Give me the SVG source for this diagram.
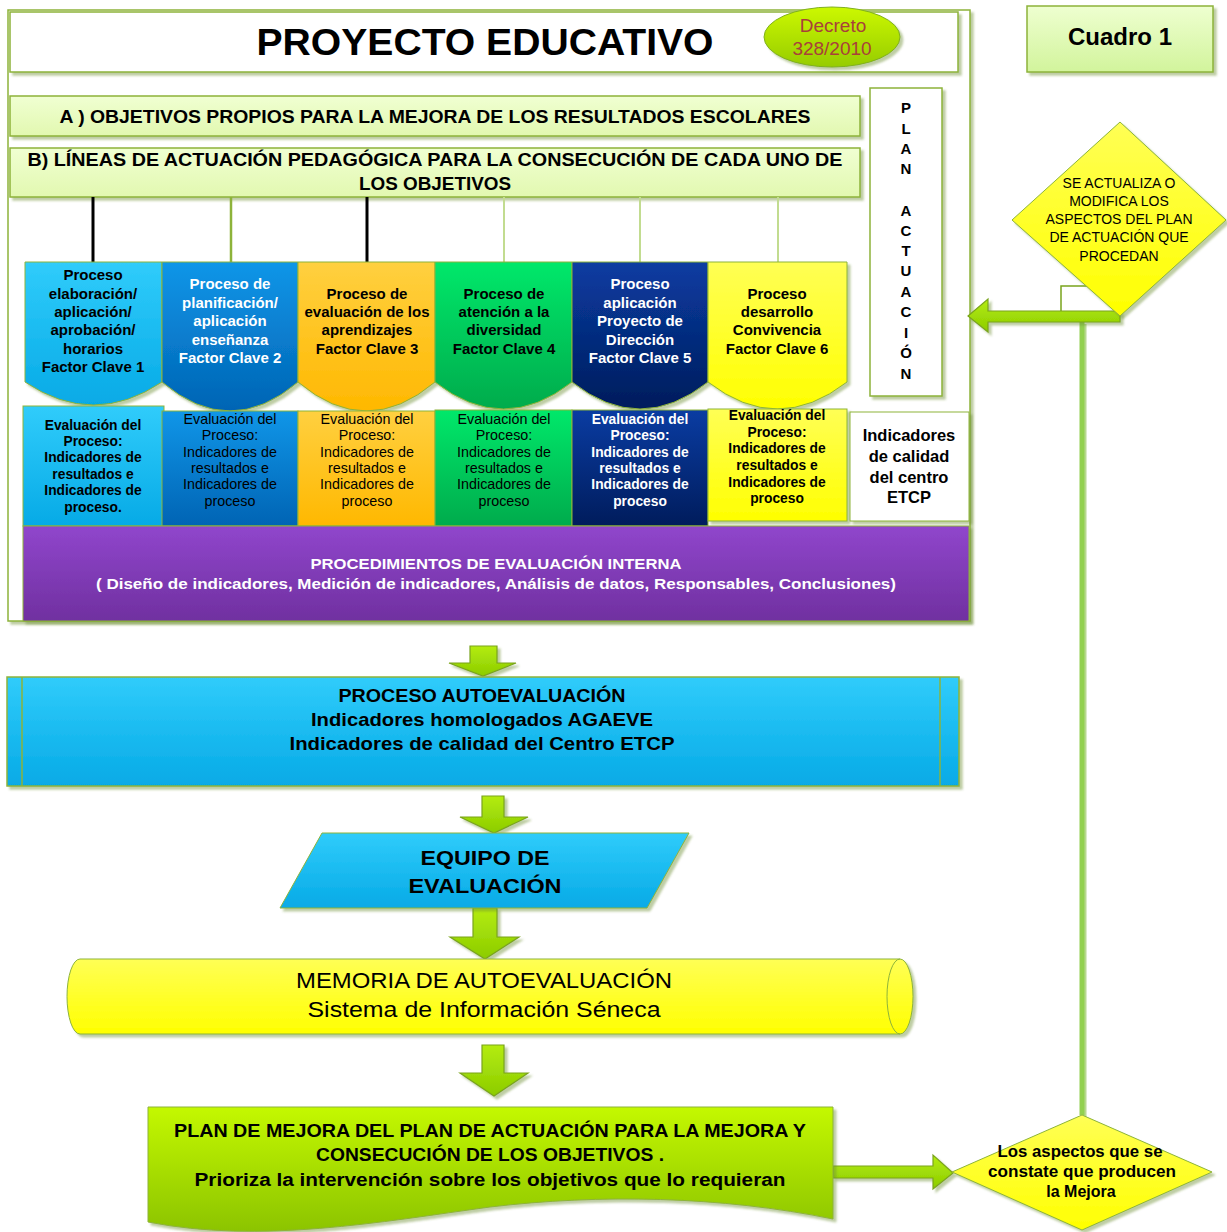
<svg xmlns="http://www.w3.org/2000/svg" width="1227" height="1232" viewBox="0 0 1227 1232">
<defs>
<filter id="sh" x="-5%" y="-5%" width="115%" height="125%"><feDropShadow dx="3" dy="3" stdDeviation="1.2" flood-color="#6f8f30" flood-opacity="0.45"/></filter>
<linearGradient id="gLb" x1="0" y1="0" x2="0" y2="1"><stop offset="0" stop-color="#30ccfb"/><stop offset="1" stop-color="#06aae6"/></linearGradient>
<linearGradient id="gB2" x1="0" y1="0" x2="0" y2="1"><stop offset="0" stop-color="#1096e8"/><stop offset="1" stop-color="#0064b4"/></linearGradient>
<linearGradient id="gOr" x1="0" y1="0" x2="0" y2="1"><stop offset="0" stop-color="#ffd040"/><stop offset="1" stop-color="#ffb800"/></linearGradient>
<linearGradient id="gGr" x1="0" y1="0" x2="0" y2="1"><stop offset="0" stop-color="#00e86a"/><stop offset="1" stop-color="#00ab4c"/></linearGradient>
<linearGradient id="gNv" x1="0" y1="0" x2="0" y2="1"><stop offset="0" stop-color="#0a3ca2"/><stop offset="1" stop-color="#001c5c"/></linearGradient>
<linearGradient id="gYe" x1="0" y1="0" x2="0" y2="1"><stop offset="0" stop-color="#ffff55"/><stop offset="1" stop-color="#ffff00"/></linearGradient>
<linearGradient id="gPu" x1="0" y1="0" x2="0" y2="1"><stop offset="0" stop-color="#9046cc"/><stop offset="1" stop-color="#7030a0"/></linearGradient>
<linearGradient id="gLi" x1="0" y1="0" x2="0" y2="1"><stop offset="0" stop-color="#c4f800"/><stop offset="1" stop-color="#8cc400"/></linearGradient>
<linearGradient id="gLiH" x1="0" y1="0" x2="0" y2="1"><stop offset="0" stop-color="#b4ec10"/><stop offset="1" stop-color="#8ccc00"/></linearGradient>
<linearGradient id="gDe" x1="0" y1="0" x2="0" y2="1"><stop offset="0" stop-color="#ccf800"/><stop offset="1" stop-color="#96cc00"/></linearGradient>
<linearGradient id="gCu" x1="0" y1="0" x2="0" y2="1"><stop offset="0" stop-color="#eeffd0"/><stop offset="1" stop-color="#d2f49c"/></linearGradient>
<linearGradient id="gAB" x1="0" y1="0" x2="0" y2="1"><stop offset="0" stop-color="#f0ffd2"/><stop offset="1" stop-color="#e2f8b0"/></linearGradient>
</defs>
<style>
text{font-family:"Liberation Sans",Arial,sans-serif;text-anchor:middle}
.b{font-weight:bold}
.bd{stroke:#8db33a;stroke-width:1.5}
.thin{stroke:#8db33a;stroke-width:1}
.w{fill:#ffffff}
.k{fill:#000000}
.arr{fill:url(#gLiH);stroke:#7aa41c;stroke-width:1.2}
.p{font-size:15px;font-weight:bold}
.e{font-size:14.3px}
.eb{font-size:13.8px;font-weight:bold}
.pl{font-size:15px;font-weight:bold}
</style>
<rect width="1227" height="1232" fill="#ffffff"/>

<g id="frame"><rect x="8" y="10" width="962" height="611" fill="#ffffff" class="bd" filter="url(#sh)"/></g>

<g id="title"><rect x="10" y="12" width="948" height="60" fill="#ffffff" class="bd" filter="url(#sh)"/>
<text x="485" y="55" class="b" font-size="37" textLength="457" lengthAdjust="spacingAndGlyphs">PROYECTO EDUCATIVO</text></g>

<g id="decreto"><ellipse cx="832" cy="37" rx="68" ry="30" fill="url(#gDe)" stroke="#80b020" stroke-width="1" filter="url(#sh)"/>
<text x="833" y="32" font-size="19" fill="#a8403a">Decreto</text>
<text x="832" y="55" font-size="19" fill="#a8403a">328/2010</text></g>

<g id="cuadro"><rect x="1027" y="6" width="186" height="66" fill="url(#gCu)" class="bd" filter="url(#sh)"/>
<text x="1120" y="45" class="b" font-size="24">Cuadro 1</text></g>

<g id="boxA"><rect x="10" y="96" width="850" height="40" fill="url(#gAB)" class="bd" filter="url(#sh)"/>
<text x="435" y="123" class="b" font-size="19" textLength="751" lengthAdjust="spacingAndGlyphs">A )  OBJETIVOS PROPIOS PARA LA MEJORA DE LOS RESULTADOS ESCOLARES</text></g>

<g id="boxB"><rect x="10" y="148" width="850" height="49" fill="url(#gAB)" class="bd" filter="url(#sh)"/>
<text x="435" y="166" class="b" font-size="19" textLength="815" lengthAdjust="spacingAndGlyphs">B) LÍNEAS DE ACTUACIÓN PEDAGÓGICA PARA LA CONSECUCIÓN DE CADA UNO DE</text>
<text x="435" y="190" class="b" font-size="19" textLength="152" lengthAdjust="spacingAndGlyphs">LOS OBJETIVOS</text></g>

<g id="plan"><rect x="870" y="88" width="72" height="308" fill="#ffffff" class="bd" filter="url(#sh)"/>
<text x="906" y="113" class="pl">P</text><text x="906" y="134" class="pl">L</text><text x="906" y="154" class="pl">A</text><text x="906" y="174" class="pl">N</text>
<text x="906" y="216" class="pl">A</text><text x="906" y="236" class="pl">C</text><text x="906" y="256" class="pl">T</text><text x="906" y="276" class="pl">U</text><text x="906" y="297" class="pl">A</text><text x="906" y="317" class="pl">C</text><text x="906" y="338" class="pl">I</text><text x="906" y="358" class="pl">Ó</text><text x="906" y="379" class="pl">N</text></g>

<g id="connectors" fill="none">
<line x1="93" y1="197" x2="93" y2="262" stroke="#000" stroke-width="3"/>
<line x1="231" y1="197" x2="231" y2="262" stroke="#8db33a" stroke-width="2.5"/>
<line x1="367" y1="197" x2="367" y2="262" stroke="#000" stroke-width="3"/>
<line x1="504" y1="197" x2="504" y2="262" stroke="#c2dc90" stroke-width="2"/>
<line x1="640" y1="197" x2="640" y2="262" stroke="#c2dc90" stroke-width="2"/>
<line x1="778" y1="197" x2="778" y2="262" stroke="#c2dc90" stroke-width="2"/>
<line x1="1085" y1="324" x2="1085" y2="1117" stroke="#b8d890" stroke-width="3"/>
<line x1="1082" y1="322" x2="1082" y2="1115" stroke="#92d050" stroke-width="5"/>
<polyline points="1092,286 1061,286 1061,311" stroke="#7aa41c" stroke-width="1.5"/>
<path d="M1120,311 H988 V299 L968,316 L988,332 V322 H1120 Z" class="arr" filter="url(#sh)"/>
<path d="M833,1166 H933 V1155 L953,1173 L933,1189 V1178 H833 Z" class="arr" filter="url(#sh)"/>
<path d="M470,646 H497 V663 H516 L483,676 L449,663 H470 Z" class="arr" filter="url(#sh)"/>
<path d="M482,796 H504 V817 H528 L494,833 L460,817 H482 Z" class="arr" filter="url(#sh)"/>
<path d="M473,908 H497 V937 H519 L485,959 L450,937 H473 Z" class="arr" filter="url(#sh)"/>
<path d="M482,1045 H504 V1073 H528 L494,1096 L460,1073 H482 Z" class="arr" filter="url(#sh)"/>
</g>

<g id="diamond1"><path d="M1120,122 L1226,220 L1120,316 L1012,220 Z" fill="url(#gYe)" class="thin" filter="url(#sh)"/>
<text x="1119" y="188" font-size="14">SE ACTUALIZA O</text>
<text x="1119" y="206" font-size="14">MODIFICA LOS</text>
<text x="1119" y="224" font-size="14">ASPECTOS DEL PLAN</text>
<text x="1119" y="242" font-size="14">DE ACTUACIÓN QUE</text>
<text x="1119" y="261" font-size="14">PROCEDAN</text></g>

<g id="p1"><path d="M25,262 H162 V382 Q93.5,428 25,382 Z" fill="url(#gLb)" class="thin" filter="url(#sh)"/>
<text x="93" y="280" class="p">Proceso</text><text x="93" y="299" class="p">elaboración/</text><text x="93" y="317" class="p">aplicación/</text><text x="93" y="335" class="p">aprobación/</text><text x="93" y="354" class="p">horarios</text><text x="93" y="372" class="p">Factor Clave 1</text></g>
<g id="p2"><path d="M162,262 H298 V382 Q230,440 162,382 Z" fill="url(#gB2)" class="thin" filter="url(#sh)"/>
<g class="w"><text x="230" y="289" class="p">Proceso de</text><text x="230" y="308" class="p">planificación/</text><text x="230" y="326" class="p">aplicación</text><text x="230" y="345" class="p">enseñanza</text><text x="230" y="363" class="p">Factor Clave 2</text></g></g>
<g id="p3"><path d="M298,262 H435 V382 Q366.5,440 298,382 Z" fill="url(#gOr)" class="thin" filter="url(#sh)"/>
<text x="367" y="299" class="p">Proceso de</text><text x="367" y="317" class="p">evaluación de los</text><text x="367" y="335" class="p">aprendizajes</text><text x="367" y="354" class="p">Factor Clave 3</text></g>
<g id="p4"><path d="M435,262 H572 V382 Q503.5,436 435,382 Z" fill="url(#gGr)" class="thin" filter="url(#sh)"/>
<text x="504" y="299" class="p">Proceso de</text><text x="504" y="317" class="p">atención a la</text><text x="504" y="335" class="p">diversidad</text><text x="504" y="354" class="p">Factor Clave 4</text></g>
<g id="p5"><path d="M572,262 H708 V382 Q640,436 572,382 Z" fill="url(#gNv)" class="thin" filter="url(#sh)"/>
<g class="w"><text x="640" y="289" class="p">Proceso</text><text x="640" y="308" class="p">aplicación</text><text x="640" y="326" class="p">Proyecto de</text><text x="640" y="345" class="p">Dirección</text><text x="640" y="363" class="p">Factor Clave 5</text></g></g>
<g id="p6"><path d="M708,262 H847 V382 Q777.5,436 708,382 Z" fill="url(#gYe)" class="thin" filter="url(#sh)"/>
<text x="777" y="299" class="p">Proceso</text><text x="777" y="317" class="p">desarrollo</text><text x="777" y="335" class="p">Convivencia</text><text x="777" y="354" class="p">Factor Clave 6</text></g>

<g id="e1"><rect x="23" y="406" width="141" height="120" fill="url(#gLb)" class="thin"/>
<text x="93" y="430" class="eb">Evaluación del</text><text x="93" y="446" class="eb">Proceso:</text><text x="93" y="462" class="eb">Indicadores de</text><text x="93" y="479" class="eb">resultados e</text><text x="93" y="495" class="eb">Indicadores de</text><text x="93" y="512" class="eb">proceso.</text></g>
<g id="e2"><rect x="162" y="411" width="136" height="115" fill="url(#gB2)" class="thin"/>
<text x="230" y="424" class="e">Evaluación del</text><text x="230" y="440" class="e">Proceso:</text><text x="230" y="457" class="e">Indicadores de</text><text x="230" y="473" class="e">resultados e</text><text x="230" y="489" class="e">Indicadores de</text><text x="230" y="506" class="e">proceso</text></g>
<g id="e3"><rect x="298" y="411" width="137" height="115" fill="url(#gOr)" class="thin"/>
<text x="367" y="424" class="e">Evaluación del</text><text x="367" y="440" class="e">Proceso:</text><text x="367" y="457" class="e">Indicadores de</text><text x="367" y="473" class="e">resultados e</text><text x="367" y="489" class="e">Indicadores de</text><text x="367" y="506" class="e">proceso</text></g>
<g id="e4"><rect x="435" y="410" width="137" height="116" fill="url(#gGr)" class="thin"/>
<text x="504" y="424" class="e">Evaluación del</text><text x="504" y="440" class="e">Proceso:</text><text x="504" y="457" class="e">Indicadores de</text><text x="504" y="473" class="e">resultados e</text><text x="504" y="489" class="e">Indicadores de</text><text x="504" y="506" class="e">proceso</text></g>
<g id="e5"><rect x="572" y="410" width="136" height="116" fill="url(#gNv)" class="thin"/>
<g class="w"><text x="640" y="424" class="eb">Evaluación del</text><text x="640" y="440" class="eb">Proceso:</text><text x="640" y="457" class="eb">Indicadores de</text><text x="640" y="473" class="eb">resultados e</text><text x="640" y="489" class="eb">Indicadores de</text><text x="640" y="506" class="eb">proceso</text></g></g>
<g id="e6"><rect x="708" y="409" width="139" height="112" fill="url(#gYe)" class="thin" filter="url(#sh)"/>
<text x="777" y="420" class="eb">Evaluación del</text><text x="777" y="437" class="eb">Proceso:</text><text x="777" y="453" class="eb">Indicadores de</text><text x="777" y="470" class="eb">resultados e</text><text x="777" y="487" class="eb">Indicadores de</text><text x="777" y="503" class="eb">proceso</text></g>
<g id="ind"><rect x="850" y="412" width="119" height="109" fill="#ffffff" class="thin" filter="url(#sh)"/>
<g class="b"><text x="909" y="441" font-size="16.5">Indicadores</text><text x="909" y="462" font-size="16.5">de calidad</text><text x="909" y="483" font-size="16.5">del centro</text><text x="909" y="503" font-size="16.5">ETCP</text></g></g>

<g id="purple"><rect x="23" y="526" width="946" height="95" fill="url(#gPu)" class="thin" filter="url(#sh)"/>
<g class="w b"><text x="496" y="569" font-size="15.5" textLength="371" lengthAdjust="spacingAndGlyphs">PROCEDIMIENTOS DE EVALUACIÓN INTERNA</text>
<text x="496" y="589" font-size="15.5" textLength="800" lengthAdjust="spacingAndGlyphs">( Diseño de indicadores, Medición de indicadores, Análisis de datos, Responsables, Conclusiones)</text></g></g>

<g id="autoeval"><rect x="7" y="677" width="952" height="109" fill="url(#gLb)" class="bd" filter="url(#sh)"/>
<line x1="22" y1="677" x2="22" y2="786" class="bd"/><line x1="940" y1="677" x2="940" y2="786" class="bd"/>
<g class="b"><text x="482" y="702" font-size="19" textLength="287" lengthAdjust="spacingAndGlyphs">PROCESO AUTOEVALUACIÓN</text>
<text x="482" y="726" font-size="19" textLength="342" lengthAdjust="spacingAndGlyphs">Indicadores homologados AGAEVE</text>
<text x="482" y="750" font-size="19" textLength="385" lengthAdjust="spacingAndGlyphs">Indicadores de calidad del Centro ETCP</text></g></g>

<g id="equipo"><path d="M322,833 H689 L647,908 H280 Z" fill="url(#gLb)" class="thin" filter="url(#sh)"/>
<g class="b"><text x="485" y="865" font-size="21" textLength="129" lengthAdjust="spacingAndGlyphs">EQUIPO DE</text>
<text x="485" y="893" font-size="21" textLength="153" lengthAdjust="spacingAndGlyphs">EVALUACIÓN</text></g></g>

<g id="memoria"><path d="M80,959 H900 A13,37.5 0 0 1 900,1034 H80 A13,37.5 0 0 1 80,959 Z" fill="url(#gYe)" class="thin" filter="url(#sh)"/>
<path d="M900,959 A13,37.5 0 0 0 900,1034" fill="none" class="thin"/>
<text x="484" y="988" font-size="22" textLength="376" lengthAdjust="spacingAndGlyphs">MEMORIA DE AUTOEVALUACIÓN</text>
<text x="484" y="1017" font-size="22" textLength="353" lengthAdjust="spacingAndGlyphs">Sistema de Información Séneca</text></g>

<g id="mejora"><path d="M148,1107 H833 V1219 C720,1196 600,1194 490,1207 C380,1222 260,1244 148,1222 Z" fill="url(#gLi)" class="thin" filter="url(#sh)"/>
<g class="b"><text x="490" y="1137" font-size="18" textLength="632" lengthAdjust="spacingAndGlyphs">PLAN DE MEJORA DEL PLAN DE ACTUACIÓN PARA LA MEJORA Y</text>
<text x="490" y="1161" font-size="18" textLength="348" lengthAdjust="spacingAndGlyphs">CONSECUCIÓN DE LOS OBJETIVOS .</text>
<text x="490" y="1186" font-size="18" textLength="591" lengthAdjust="spacingAndGlyphs">Prioriza la intervención sobre los objetivos que lo requieran</text></g></g>

<g id="diamond2"><path d="M1082,1115 L1212,1172 L1082,1230 L952,1172 Z" fill="url(#gYe)" class="thin" filter="url(#sh)"/>
<g class="b"><text x="1080" y="1157" font-size="16" textLength="165" lengthAdjust="spacingAndGlyphs">Los aspectos que se</text>
<text x="1082" y="1177" font-size="16" textLength="188" lengthAdjust="spacingAndGlyphs">constate que producen</text>
<text x="1081" y="1197" font-size="16">la Mejora</text></g></g>
</svg>
